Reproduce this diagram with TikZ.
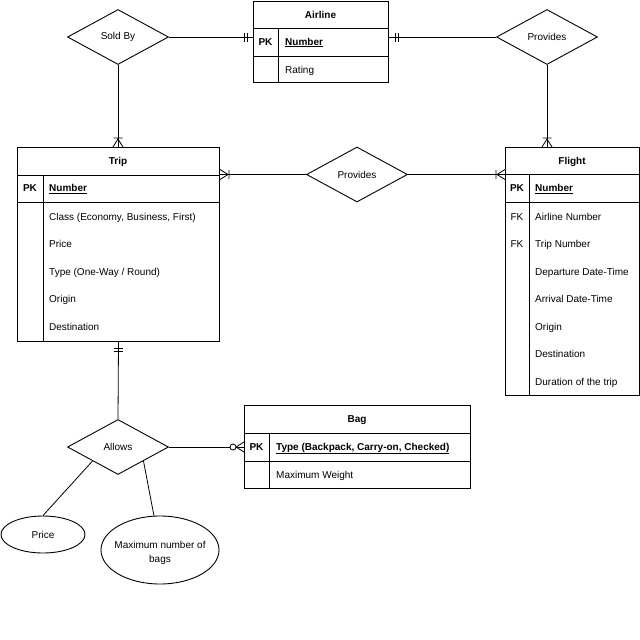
\documentclass[tikz,border=0pt]{standalone}
\usepackage{fontspec}
\setmainfont{Liberation Sans}
\usetikzlibrary{shapes.geometric}
\begin{document}
\begin{tikzpicture}[x=1pt,y=-1pt,font=\fontsize{10}{12}\selectfont,
  ent/.style={draw,line width=1pt,anchor=north west,inner sep=0},
  sep/.style={line width=1pt},
  conn/.style={line width=0.8pt},
  rel/.style={draw,diamond,line width=0.9pt,inner sep=0,minimum width=101,minimum height=55,aspect=1.8},
  attr/.style={draw,ellipse,line width=0.9pt,inner sep=0},
  txt/.style={inner sep=0,text height=7.2pt,text depth=0.8pt},
  lbl/.style={txt,anchor=west},
  key/.style={txt,font=\fontsize{10}{12}\selectfont\bfseries},
  hdr/.style={txt,font=\fontsize{10}{12}\selectfont\bfseries},
  mandone/.pic={\draw[line width=0.8pt] (-6,-4.5) -- (-6,4.5) (-9,-4.5) -- (-9,4.5);},
  onemany/.pic={\draw[line width=0.8pt] (-9,-4.5) -- (-9,4.5) (0,-5) -- (-8,0) -- (0,5);},
  zeromany/.pic={\draw[line width=0.8pt] (0,-5) -- (-8,0) -- (0,5); \draw[line width=0.8pt,fill=white] (-11,0) circle[radius=3pt];}
]
\useasboundingbox (0,0) rectangle (640,640);

% Airline
\node[ent,minimum width=135,minimum height=81] (airline) at (253,1) {};
\draw[sep] (253,28) -- (388,28) (253,56) -- (388,56) (278,28) -- (278,82);
\node[hdr] (airlineH) at (320.5,15) {Airline};
\node[key] (airlinePK) at (265.5,42) {PK};
\node[lbl,font=\fontsize{10}{12}\selectfont\bfseries] (airlineN) at (285,42) {\underline{Number}};
\node[lbl] (airlineR) at (285,70) {Rating};

% Trip
\node[ent,minimum width=202,minimum height=194] (trip) at (17,147) {};
\draw[sep] (17,175) -- (219,175) (17,202) -- (219,202) (43,175) -- (43,341);
\node[hdr] (tripH) at (118,161) {Trip};
\node[key] (tripPK) at (30,188.5) {PK};
\node[lbl,font=\fontsize{10}{12}\selectfont\bfseries] (tripN) at (49,188.5) {\underline{Number}};
\node[lbl] (trip1) at (49,217) {Class (Economy, Business, First)};
\node[lbl] (trip2) at (49,244.5) {Price};
\node[lbl] (trip3) at (49,272) {Type (One-Way / Round)};
\node[lbl] (trip4) at (49,299.5) {Origin};
\node[lbl] (trip5) at (49,327) {Destination};

% Flight
\node[ent,minimum width=133.5,minimum height=248] (flight) at (505,147) {};
\draw[sep] (505,174) -- (638.5,174) (505,202) -- (638.5,202) (529,174) -- (529,395);
\node[hdr] (flightH) at (572,161) {Flight};
\node[key] (flightPK) at (517,188.5) {PK};
\node[lbl,font=\fontsize{10}{12}\selectfont\bfseries] (flightN) at (535,188.5) {\underline{Number}};
\node[txt] (flightFK1) at (517,217) {FK};
\node[txt] (flightFK2) at (517,244.5) {FK};
\node[lbl] (flight1) at (535,217) {Airline Number};
\node[lbl] (flight2) at (535,244.5) {Trip Number};
\node[lbl] (flight3) at (535,272) {Departure Date-Time};
\node[lbl] (flight4) at (535,299.5) {Arrival Date-Time};
\node[lbl] (flight5) at (535,327) {Origin};
\node[lbl] (flight6) at (535,354.5) {Destination};
\node[lbl] (flight7) at (535,382) {Duration of the trip};

% Bag
\node[ent,minimum width=226,minimum height=83] (bag) at (244,405) {};
\draw[sep] (244,433) -- (470,433) (244,461) -- (470,461) (269,433) -- (269,488);
\node[hdr] (bagH) at (357,419) {Bag};
\node[key] (bagPK) at (256.5,447) {PK};
\node[lbl,font=\fontsize{10}{12}\selectfont\bfseries] (bagN) at (276,447) {\underline{Type (Backpack, Carry-on, Checked)}};
\node[lbl] (bag1) at (276,475) {Maximum Weight};

% Relationships
\node[rel] (soldby) at (118,37) {Sold By};
\node[rel] (provA) at (547,37) {Provides};
\node[rel] (provB) at (357,174.5) {Provides};
\node[rel] (allows) at (118,447) {Allows};

% Attributes
\node[attr,minimum width=84,minimum height=37] (price) at (43,534.5) {Price};
\node[attr,minimum width=118,minimum height=68] (maxb) at (160,550) {};
\node[inner sep=0,align=center,font=\fontsize{10}{14}\selectfont] (maxbT) at (160,553) {Maximum number of\\bags};

% Connectors
\draw[conn] (soldby.east) -- (soldby.east -| airline.west);
\draw[conn] (soldby.south) -- (soldby.south |- trip.north);
\draw[conn] (provA.west) -- (provA.west -| airline.east);
\draw[conn] (provA.south) -- (provA.south |- flight.north);
\draw[conn] (provB.west) -- (provB.west -| trip.east);
\draw[conn] (provB.east) -- (provB.east -| flight.west);
\draw[conn] (trip.south) -- (allows.north);
\draw[conn] (allows.east) -- (allows.east -| bag.west);
\draw[conn] (allows.south west) -- (price.north);
\draw[conn] (allows.south east) -- (maxb.100);

% Cardinality marks
\pic at (soldby.east -| airline.west) {mandone};
\pic[rotate=180] at (provA.west -| airline.east) {mandone};
\pic[rotate=-90] at (soldby.south |- trip.north) {onemany};
\pic[rotate=-90] at (provA.south |- flight.north) {onemany};
\pic[rotate=180] at (provB.west -| trip.east) {onemany};
\pic at (provB.east -| flight.west) {onemany};
\pic[rotate=90] at (trip.south) {mandone};
\pic at (allows.east -| bag.west) {zeromany};
\end{tikzpicture}
\end{document}
